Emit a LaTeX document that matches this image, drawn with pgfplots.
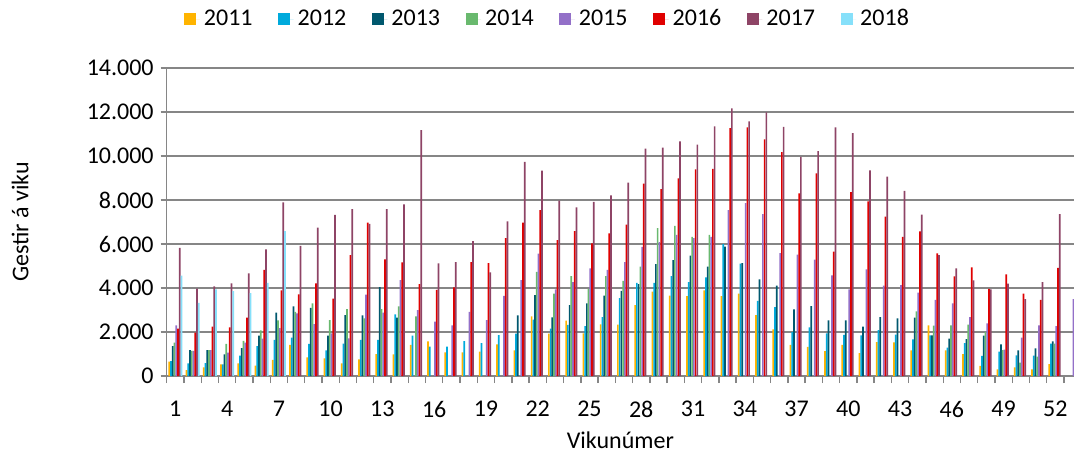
\documentclass[border=0pt]{standalone}
\usepackage{fontspec}
\setmainfont{Carlito}
\usepackage{pgfplots}
\pgfplotsset{compat=1.18}
\definecolor{c11}{RGB}{255,180,0}
\definecolor{c12}{RGB}{0,170,220}
\definecolor{c13}{RGB}{0,88,110}
\definecolor{c14}{RGB}{105,185,110}
\definecolor{c15}{RGB}{147,112,200}
\definecolor{c16}{RGB}{224,0,0}
\definecolor{c17}{RGB}{142,68,102}
\definecolor{c18}{RGB}{134,224,250}
\definecolor{axgray}{RGB}{134,134,134}
\begin{document}
\begin{tikzpicture}
\begin{axis}[
  at={(0,0)}, anchor=south west,
  scale only axis, width=453.65pt, height=154pt,
  xmin=0.5, xmax=53.08, ymin=0, ymax=14000,
  enlargelimits=false,
  ybar=0.02pt, bar width=0.85pt,
  axis x line*=bottom, axis y line*=left,
  axis line style={draw=axgray, line width=0.7pt},
  ymajorgrids, grid style={draw=axgray, line width=0.7pt},
  ytick={0,2000,...,14000},
  xtick={1,4,...,52},
  minor xtick={0.5,1.5,...,52.5},
  tick align=outside,
  major tick length=3pt, minor tick length=3.5pt,
  every major x tick/.append style={draw=none},
  tick style={draw=axgray, line width=0.7pt},
  scaled y ticks=false,
  tick label style={font=\fontsize{12}{14}\selectfont, /pgf/number format/assume math mode=true},
  yticklabel style={/pgf/number format/.cd, fixed, 1000 sep={.}},
  xticklabel style={yshift=-6pt},
  label style={font=\fontsize{12}{14}\selectfont},
  ylabel={Gestir á viku},
  ylabel style={at={(axis description cs:-0.1616,0.5)}, anchor=center},
  xlabel={Vikunúmer},
  xlabel style={at={(axis description cs:0.5,-0.2078)}, anchor=center},
  legend columns=8,
  legend style={at={(0.421,1)}, anchor=center, yshift=24.5pt, draw=none, fill=none,
    font=\fontsize{12}{14}\selectfont, inner sep=0pt,
    /tikz/every even column/.append style={column sep=10.8pt}},
  legend image code/.code={\fill[#1] (0pt,-3pt) rectangle (6pt,3pt); \path (0pt,0pt) -- (7.75pt,0pt);},
]
\addplot[fill=c11, draw=none] coordinates {(1,650)(2,270)(3,390)(4,530)(5,575)(6,470)(7,730)(8,1410)(9,850)(10,800)(11,575)(12,760)(13,1000)(14,985)(15,1410)(16,1575)(17,1075)(18,1075)(19,1105)(20,1440)(21,1165)(22,2710)(23,1925)(24,2515)(25,1940)(26,2350)(27,2335)(28,3225)(29,3835)(30,3650)(31,3635)(32,3890)(33,3635)(34,3740)(35,2770)(36,2120)(37,1410)(38,1320)(39,1135)(40,1410)(41,1045)(42,1545)(43,1530)(44,1165)(45,2300)(46,1165)(47,1000)(48,455)(49,300)(50,390)(51,300)(52,545)};
\addplot[fill=c12, draw=none] coordinates {(1,680)(2,575)(3,590)(4,530)(5,925)(6,1360)(7,1640)(8,1740)(9,1455)(10,1165)(11,1470)(12,1640)(13,1640)(14,2800)(15,1830)(16,1330)(17,1330)(18,1590)(19,1500)(20,1860)(21,1925)(22,2560)(23,2150)(24,2320)(25,2270)(26,2680)(27,3545)(28,4230)(29,4230)(30,4545)(31,4270)(32,4485)(33,6000)(34,5105)(35,3410)(36,3135)(37,2000)(38,2210)(39,1940)(40,1865)(41,1850)(42,2090)(43,1880)(44,1665)(45,1850)(46,1290)(47,1500)(48,910)(49,1105)(50,940)(51,925)(52,1470)};
\addplot[fill=c13, draw=none] coordinates {(1,1360)(2,1180)(3,1180)(4,985)(5,1270)(6,1830)(7,2880)(8,3170)(9,3100)(10,1830)(11,2770)(12,2760)(13,4045)(14,2650)(21,2760)(22,3680)(23,2665)(24,3225)(25,3300)(26,3650)(27,3865)(28,4180)(29,5090)(30,5270)(31,5470)(32,4970)(33,5880)(34,5135)(35,4390)(36,4105)(37,3030)(38,3180)(39,2530)(40,2530)(41,2240)(42,2680)(43,2620)(44,2650)(45,1850)(46,1700)(47,1680)(48,1830)(49,1440)(50,1165)(51,1255)(52,1575)};
\addplot[fill=c14, draw=none] coordinates {(1,1515)(2,1140)(3,1180)(4,1455)(5,1600)(6,2075)(7,2530)(8,2910)(9,3300)(10,2545)(11,3045)(12,2620)(13,3045)(14,3170)(15,2710)(22,4730)(23,3740)(24,4545)(25,3955)(26,4545)(27,4320)(28,4970)(29,6725)(30,6820)(31,6320)(32,6410)(44,2940)(45,2290)(46,2300)(47,2330)(48,2000)(49,1180)(50,605)(51,880)(52,1470)};
\addplot[fill=c15, draw=none] coordinates {(1,2300)(2,1140)(3,1180)(4,1060)(5,1515)(6,1700)(7,2180)(8,2850)(9,2360)(10,1940)(11,1710)(12,3700)(13,2880)(14,4360)(15,3000)(16,2470)(17,2300)(18,2910)(19,2545)(20,3640)(21,4360)(22,5560)(23,3940)(24,4270)(25,4890)(26,4820)(27,5180)(28,5865)(29,6090)(30,6410)(31,6270)(32,6320)(33,7545)(34,7860)(35,7360)(36,5590)(37,5515)(38,5290)(39,4575)(40,3940)(41,4850)(42,4105)(43,4135)(44,3790)(45,3455)(46,3300)(47,2680)(48,2390)(49,1195)(50,1740)(51,2300)(52,2270)(53,3500)};
\addplot[fill=c16, draw=none] coordinates {(1,2150)(2,1970)(3,2240)(4,2210)(5,2650)(6,4820)(7,3890)(8,3710)(9,4210)(10,3515)(11,5500)(12,6970)(13,5300)(14,5170)(15,4180)(16,3920)(17,4030)(18,5180)(19,5135)(20,6270)(21,6970)(22,7545)(23,6180)(24,6590)(25,6030)(26,6480)(27,6880)(28,8740)(29,8500)(30,8985)(31,9390)(32,9410)(33,11270)(34,11300)(35,10760)(36,10180)(37,8300)(38,9210)(39,5650)(40,8360)(41,7940)(42,7240)(43,6320)(44,6575)(45,5575)(46,4530)(47,4940)(48,3955)(49,4620)(50,3740)(51,3455)(52,4910)};
\addplot[fill=c17, draw=none] coordinates {(1,5820)(2,3970)(3,4075)(4,4210)(5,4670)(6,5760)(7,7890)(8,5910)(9,6740)(10,7320)(11,7590)(12,6920)(13,7590)(14,7800)(15,11180)(16,5120)(17,5180)(18,6135)(19,4710)(20,7030)(21,9730)(22,9330)(23,7970)(24,7665)(25,7920)(26,8210)(27,8790)(28,10330)(29,10380)(30,10665)(31,10515)(32,11350)(33,12165)(34,11575)(35,11985)(36,11320)(37,9955)(38,10225)(39,11300)(40,11045)(41,9350)(42,9060)(43,8410)(44,7330)(45,5500)(46,4890)(47,4350)(48,3940)(49,4200)(50,3500)(51,4270)(52,7360)};
\addplot[fill=c18, draw=none] coordinates {(1,4560)(2,3320)(3,3940)(4,3860)(5,3770)(6,4230)(7,6580)};
\legend{2011,2012,2013,2014,2015,2016,2017,2018}
\end{axis}
\pgfresetboundingbox
\path[use as bounding box] (-83.35pt,-42.5pt) rectangle (453.65pt,188pt);
\end{tikzpicture}
\end{document}
